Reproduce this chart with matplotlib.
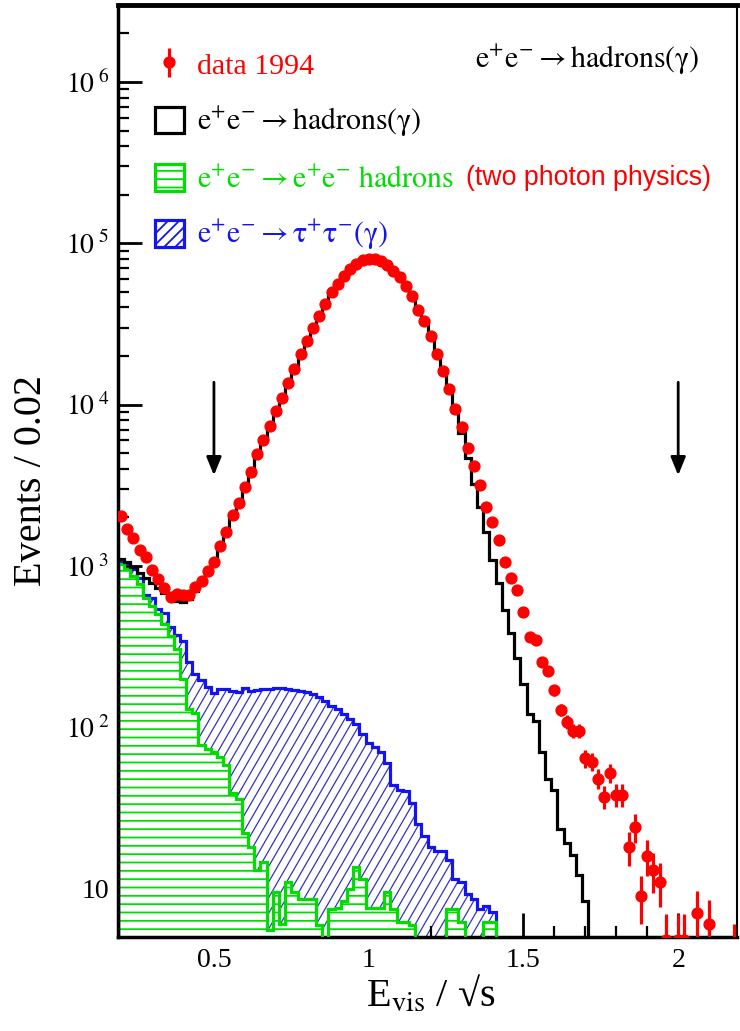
import numpy as np
import matplotlib.pyplot as plt
from matplotlib.patches import Patch
from matplotlib.collections import LineCollection
from matplotlib.ticker import MultipleLocator, LogLocator, FuncFormatter, NullFormatter

plt.rcParams['font.family'] = ['Liberation Serif', 'DejaVu Serif']
plt.rcParams['mathtext.fontset'] = 'stix'
plt.rcParams['hatch.linewidth'] = 1.3

# binning: 100 bins of 0.02 starting at 0.19
bin_lo = 0.19
bin_w = 0.02

# data 1994, events per bin (0 = empty bin)
data_1994 = [2030, 1700, 1490, 1260, 1130, 940, 830, 724, 641, 671,
             659, 659, 738, 804, 935, 1054, 1324, 1618, 2056, 2449,
             3062, 3837, 4909, 6026, 7396, 9183, 10990, 13680, 16670, 20650,
             24950, 29720, 35320, 41980, 49660, 55850, 62810, 69180, 74130, 78890,
             80350, 80350, 77800, 73110, 67450, 61380, 54450, 46880, 38730, 33110,
             26790, 20650, 16140, 12560, 9354, 7278, 5346, 4188, 3177, 2333,
             1862, 1442, 1059, 843, 708, 518, 360, 348, 252, 222,
             170, 128, 108, 95, 95, 64, 61, 48, 37, 52,
             38, 38, 18, 24, 9, 16, 13, 11, 4.8, 0,
             4.8, 4.8, 0, 7, 0, 6, 0, 0, 0, 4]

# MC e+e- -> hadrons(gamma), full stack (black)
mc_total = [1109, 1059, 982, 906, 843, 785, 731, 681, 634, 605,
            600, 619, 698, 790, 925, 1050, 1310, 1600, 2040, 2430,
            3040, 3810, 4880, 6000, 7350, 9130, 10930, 13600, 16580, 20540,
            24820, 29570, 35140, 41770, 49410, 55580, 62500, 68840, 73770, 78500,
            79950, 79950, 77420, 72750, 67120, 61080, 54180, 46650, 38540, 32900,
            26500, 20300, 15800, 12200, 9016, 6622, 4645, 3206, 2301, 1629,
            1094, 785, 531, 383, 270, 186, 121, 109, 70, 48,
            41, 23.5, 19, 16.2, 12.2, 8.4]

# e+e- -> tau+tau-(gamma) stacked on two photon (blue)
tau_stack = [1070, 1030, 950, 840, 660, 630, 540, 510, 420, 370,
             340, 252, 215, 195, 178, 162, 173, 172, 168, 165,
             176, 168, 170, 172, 172, 176, 176, 172, 170, 168,
             164, 160, 153, 146, 136, 129, 120, 112, 104, 91,
             80, 75, 70, 60, 44, 41, 40, 34, 25, 21,
             18, 17, 17, 15, 11.5, 11, 9.3, 8.6, 7.5, 7.8,
             7.1]

# e+e- -> e+e- hadrons, two photon (green)
two_photon = [1020, 950, 865, 768, 635, 564, 501, 435, 368, 304,
              198, 129, 123, 77, 73, 70, 65, 58, 39, 36,
              22, 18, 13, 14.5, 5.5, 9.5, 6.0, 11.0, 9.5, 8.6,
              8.6, 8.6, 5.9, 4.5, 7.5, 7.6, 8.4, 9.9, 13.5, 11.5,
              7.6, 7.6, 7.6, 9.5, 7.5, 6.2, 6.2, 5.9, 4.5, 4.5,
              4.5, 4.5, 4.5, 7.5, 7.5, 6.2, 4.5, 4.5, 4.5, 6.2,
              6.2]

cut_x = [0.5, 2.0]
cut_y = [14300, 3500]   # arrow tail, head

green = '#00dd00'
blue = '#1414f0'

edges = bin_lo + bin_w * np.arange(len(data_1994) + 1)
centers = edges[:-1] + bin_w / 2
n = np.array(data_1994, dtype=float)

fig = plt.figure(figsize=(7.4, 10.31), dpi=100)
ax = fig.add_axes([118/740, 1 - 937/1031, 619/740, 932/1031])
ax.set_yscale('log')

# blue: white fill + steep hatching clipped to the histogram shape
tau_fill = ax.stairs(tau_stack, edges[:len(tau_stack) + 1], baseline=0.1, fill=True,
                     facecolor='white', edgecolor='none', zorder=1)
w_px = 619.0
h_px = 932.0
dx = h_px / (np.tan(np.radians(60)) * w_px)
step = 9.0 / w_px
segs = [[(x0, 0), (x0 + dx, 1)] for x0 in np.arange(-dx, 1.0, step)]
lc = LineCollection(segs, colors='#3434c0', linewidths=0.9, transform=ax.transAxes, zorder=1.5)
ax.add_collection(lc, autolim=False)
lc.set_clip_path(tau_fill)

ax.stairs(two_photon, edges[:len(two_photon) + 1], baseline=0.1, fill=True,
          facecolor='white', edgecolor=green, lw=0, hatch='--', zorder=2)

ax.stairs(tau_stack, edges[:len(tau_stack) + 1], baseline=0.1, color=blue, lw=2.3, zorder=3)
ax.stairs(two_photon, edges[:len(two_photon) + 1], baseline=0.1, color=green, lw=2.3, zorder=3.1)
ax.stairs(mc_total, edges[:len(mc_total) + 1], baseline=0.1, color='black', lw=2.3, zorder=3.2)

m = n > 0
h_data = ax.errorbar(centers[m], n[m], yerr=np.sqrt(n[m]), fmt='o', color='#ff0000',
                     ms=7.8, elinewidth=2.3, capsize=0, zorder=5)

for x in cut_x:
    ax.annotate('', xy=(x, cut_y[1]), xytext=(x, cut_y[0]),
                arrowprops=dict(arrowstyle='-|>,head_length=1.1,head_width=0.45',
                                color='black', lw=2.0), zorder=6)

ax.set_xlim(0.19, 2.19)
ax.set_ylim(5, 3e6)

ax.xaxis.set_major_locator(MultipleLocator(0.5))
ax.xaxis.set_minor_locator(MultipleLocator(0.1))
ax.xaxis.set_major_formatter(FuncFormatter(lambda v, p: '%g' % v))
ax.yaxis.set_major_locator(LogLocator(base=10))
ax.yaxis.set_minor_locator(LogLocator(base=10, subs=np.arange(2, 10)))
ax.yaxis.set_minor_formatter(NullFormatter())


def ylab(v, pos):
    e = int(round(np.log10(v)))
    if e == 1:
        return '10'
    return r'$\mathrm{10^{\ %d}}$' % e


ax.yaxis.set_major_formatter(FuncFormatter(ylab))
ax.tick_params(which='both', direction='in', top=False, right=False, labelsize=20)
ax.tick_params(which='major', length=17, width=2)
ax.tick_params(which='minor', length=8, width=1.6)
ax.tick_params(axis='x', pad=8)
ax.tick_params(axis='y', pad=6)

for s, lw in [('left', 2.5), ('bottom', 2.5), ('top', 3.5), ('right', 1.5)]:
    ax.spines[s].set_linewidth(lw)

ax.set_ylabel('Events / 0.02', fontsize=29)
ax.yaxis.set_label_coords(-0.11, 0.49)
ax.set_xlabel(r'E$_{\mathrm{vis}}$ / √s', fontsize=29)
ax.xaxis.set_label_coords(0.505, -0.04)

handles = [h_data,
           Patch(facecolor='white', edgecolor='black', lw=2.3),
           Patch(facecolor='white', edgecolor=green, hatch='--', lw=2.3),
           Patch(facecolor='white', edgecolor=blue, hatch='///', lw=2.3)]
labels = ['data 1994',
          r'$\mathrm{e^{+}e^{-}\rightarrow hadrons(\gamma)}$',
          r'$\mathrm{e^{+}e^{-}\rightarrow e^{+}e^{-}\ hadrons}$',
          r'$\mathrm{e^{+}e^{-}\rightarrow \tau^{+}\tau^{-}(\gamma)}$']
leg = ax.legend(handles, labels, loc='upper left', bbox_to_anchor=(0.06, 0.951),
                frameon=False, fontsize=21.5, handlelength=0.95, handleheight=1.0,
                handletextpad=0.45, labelspacing=0.83, borderaxespad=0, borderpad=0)
for t, c in zip(leg.get_texts(), ['#ff0000', 'black', green, blue]):
    t.set_color(c)

ax.text(0.94, 0.941, r'$\mathrm{e^{+}e^{-}\rightarrow hadrons(\gamma)}$',
        transform=ax.transAxes, ha='right', va='center', fontsize=21.5)
ax.text(0.562, 0.8145, '(two photon physics)', transform=ax.transAxes, ha='left',
        va='center', fontsize=19.3, color='#ff0000', family='Liberation Sans')

fig.savefig('out.png', dpi=100)
